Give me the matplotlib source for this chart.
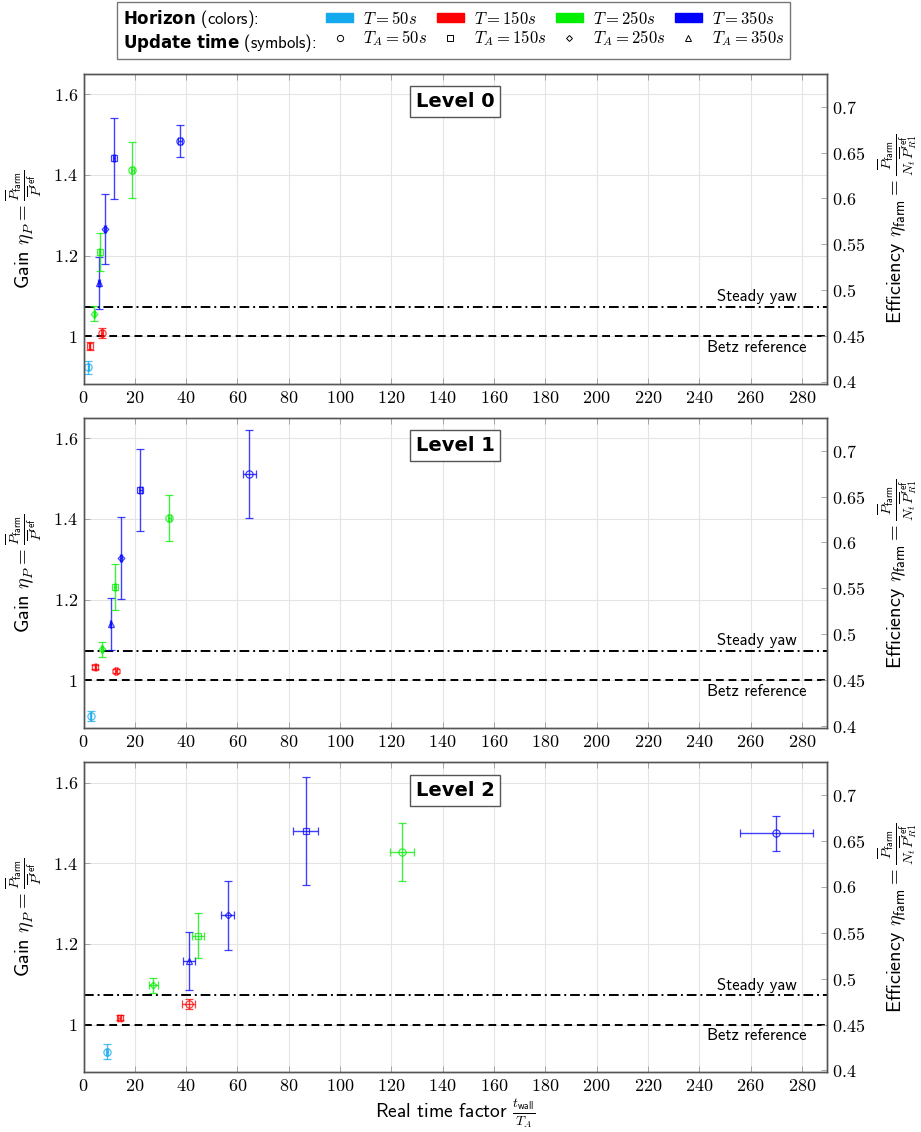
import matplotlib
matplotlib.use("Agg")
import matplotlib.pyplot as plt
from matplotlib.ticker import FuncFormatter, FixedLocator
from matplotlib.patches import Patch
from matplotlib.lines import Line2D

plt.rcParams['mathtext.fontset'] = 'cm'
plt.rcParams['font.family'] = ['cmss10', 'DejaVu Sans']
plt.rcParams['axes.unicode_minus'] = False

# ---------------- data ----------------
horizons = [50, 150, 250, 350]
updates = [50, 150, 250, 350]
horizon_colors = {50: '#14a8ec', 150: '#ff0000', 250: '#00ee00', 350: '#0000ff'}
update_markers = {50: 'o', 150: 's', 250: 'D', 350: '^'}

# Level 0
l0_T    = [50, 150, 150, 250, 350, 250, 350, 350, 250, 350]
l0_TA   = [50, 150, 50, 250, 350, 150, 250, 150, 50, 50]
l0_x    = [1.9, 2.4, 7.3, 4.2, 6.0, 6.3, 8.3, 12.0, 19.0, 37.5]
l0_xerr = [0.2, 0.2, 0.3, 0.2, 0.3, 0.3, 0.3, 0.4, 0.5, 0.8]
l0_y    = [0.922, 0.975, 1.007, 1.056, 1.132, 1.209, 1.267, 1.441, 1.412, 1.484]
l0_yerr = [0.017, 0.010, 0.012, 0.018, 0.064, 0.047, 0.087, 0.100, 0.070, 0.040]

# Level 1
l1_T    = [50, 150, 150, 250, 350, 250, 350, 350, 250, 350]
l1_TA   = [50, 150, 50, 250, 350, 150, 250, 150, 50, 50]
l1_x    = [2.9, 4.5, 12.7, 7.3, 10.6, 12.2, 14.5, 22.1, 33.5, 64.6]
l1_xerr = [0.2, 0.2, 0.4, 0.3, 0.3, 0.4, 0.4, 0.5, 0.6, 2.5]
l1_y    = [0.912, 1.033, 1.023, 1.077, 1.139, 1.232, 1.303, 1.472, 1.402, 1.511]
l1_yerr = [0.013, 0.005, 0.005, 0.019, 0.065, 0.057, 0.102, 0.102, 0.057, 0.109]

# Level 2
l2_T    = [50, 150, 250, 150, 350, 250, 350, 350, 250, 350]
l2_TA   = [50, 150, 250, 50, 350, 150, 250, 150, 50, 50]
l2_x    = [9.2, 14.1, 27.2, 41.0, 41.1, 44.6, 56.2, 86.6, 124.0, 270.1]
l2_xerr = [0.5, 0.6, 1.7, 2.6, 2.5, 2.3, 2.5, 4.9, 4.7, 14.2]
l2_y    = [0.933, 1.017, 1.097, 1.051, 1.157, 1.220, 1.271, 1.480, 1.428, 1.475]
l2_yerr = [0.019, 0.006, 0.018, 0.012, 0.072, 0.056, 0.085, 0.134, 0.072, 0.043]

levels = [
    ("Level 0", l0_T, l0_TA, l0_x, l0_xerr, l0_y, l0_yerr),
    ("Level 1", l1_T, l1_TA, l1_x, l1_xerr, l1_y, l1_yerr),
    ("Level 2", l2_T, l2_TA, l2_x, l2_xerr, l2_y, l2_yerr),
]

steady_yaw = 1.0725
betz_ref = 1.0
x_ticks = list(range(0, 281, 20))
y_ticks = [1.0, 1.2, 1.4, 1.6]
eff_ticks = [0.4, 0.45, 0.5, 0.55, 0.6, 0.65, 0.7]
xlim = (0, 289.7)
ylim = (0.881, 1.651)


def gain_to_eff(g):
    return 0.45 + 0.439 * (g - 1.0)


# ---------------- figure ----------------
fig = plt.figure(figsize=(9.21, 11.32), dpi=100)
frame_col = '#555555'
grid_col = '#e4e4e4'
fs = 11

axes_rects = [
    (0.0907, 0.6608, 0.8069, 0.2739),
    (0.0907, 0.3566, 0.8069, 0.2744),
    (0.0907, 0.0526, 0.8069, 0.2740),
]
mfmt = FuncFormatter(lambda v, p: r'$%g$' % round(v, 3))

for i, (name, T, TA, x, xe, y, ye) in enumerate(levels):
    ax = fig.add_axes(axes_rects[i])
    ax.set_xlim(*xlim)
    ax.set_ylim(*ylim)
    ax.grid(True, color=grid_col, lw=0.8, zorder=0)
    ax.set_axisbelow(True)
    for s in ax.spines.values():
        s.set_color(frame_col)
        s.set_linewidth(1.0)
    ax.xaxis.set_major_locator(FixedLocator(x_ticks))
    ax.yaxis.set_major_locator(FixedLocator(y_ticks))
    ax.xaxis.set_major_formatter(mfmt)
    ax.yaxis.set_major_formatter(mfmt)
    ax.tick_params(direction='in', length=4, width=0.6, color='#999999',
                   labelsize=fs + 2, top=True, pad=4)
    ax.tick_params(axis='y', right=False)

    ax.axhline(steady_yaw, color='k', lw=1.4, ls=(0, (5, 2, 1, 2)), zorder=2)
    ax.axhline(betz_ref, color='k', lw=1.4, ls=(0, (4, 2.5)), zorder=2)
    ax.annotate('Steady yaw', xy=(0.906, steady_yaw), xycoords=('axes fraction', 'data'),
                xytext=(0, 2), textcoords='offset points', ha='center', va='bottom',
                fontsize=fs + 1)
    ax.annotate('Betz reference', xy=(0.906, betz_ref), xycoords=('axes fraction', 'data'),
                xytext=(0, -2.5), textcoords='offset points', ha='center', va='top',
                fontsize=fs + 1)

    for k in range(len(x)):
        c = horizon_colors[T[k]]
        m = update_markers[TA[k]]
        ms = {'o': 5.2, 's': 4.8, 'D': 3.4, '^': 4.6}[m]
        ax.errorbar([x[k]], [y[k]], xerr=[xe[k]], yerr=[ye[k]], fmt=m, color=c,
                    mfc='none', mec=c, ms=ms, mew=0.9, elinewidth=1.0,
                    capsize=3, capthick=1.0, alpha=0.75, zorder=3)

    ax.text(0.5, 0.91, name, transform=ax.transAxes, ha='center', va='center',
            fontsize=fs + 3, fontweight='bold', family='DejaVu Sans',
            bbox=dict(boxstyle='square,pad=0.3', fc='white', ec=frame_col, lw=1.0),
            zorder=5)

    ax.set_ylabel(r'Gain $\eta_P = \frac{\overline{P}_{\mathsf{farm}}}{\overline{P}^{\mathsf{ref}}}$',
                  fontsize=fs + 3.5, labelpad=6)

    ax2 = ax.twinx()
    ax2.set_ylim(gain_to_eff(ylim[0]), gain_to_eff(ylim[1]))
    ax2.yaxis.set_major_locator(FixedLocator(eff_ticks))
    ax2.yaxis.set_major_formatter(mfmt)
    ax2.tick_params(direction='in', length=4, width=0.6, color='#999999',
                    labelsize=fs + 2, pad=4)
    for s in ax2.spines.values():
        s.set_color(frame_col)
        s.set_linewidth(1.0)
    ax2.set_ylabel(r'Efficiency $\eta_{\mathsf{farm}} = \frac{\overline{P}_{\mathsf{farm}}}{N_t\,\overline{P}^{\mathsf{ref}}_{R1}}$',
                   fontsize=fs + 3.5, labelpad=8)

    if i == 2:
        ax.set_xlabel(r'Real time factor $\frac{t_{\mathsf{wall}}}{T_A}$', fontsize=fs + 3, labelpad=2)

# ---------------- legend ----------------
blank = Line2D([], [], ls='none')
handles, labels = [], []
handles += [blank, blank]
labels += [r'$\mathbf{Horizon}$ (colors):', r'$\mathbf{Update\ time}$ (symbols):']
for h, ta in zip(horizons, updates):
    handles.append(Patch(facecolor=horizon_colors[h], edgecolor=horizon_colors[h]))
    labels.append(r'$T = %ds$' % h)
    handles.append(Line2D([], [], marker=update_markers[ta], color='k', ls='none',
                          mfc='none', mew=0.7,
                          ms={'o': 4.5, 's': 4.2, 'D': 3.0, '^': 4.0}[update_markers[ta]]))
    labels.append(r'$T_A = %ds$' % ta)

leg = fig.legend(handles, labels, ncol=5, loc='center', bbox_to_anchor=(0.4925, 0.973),
                 fontsize=fs + 1, frameon=True, fancybox=False, edgecolor=frame_col,
                 handlelength=1.6, handleheight=0.45, handletextpad=0.6,
                 columnspacing=0.6, labelspacing=0.12, borderpad=0.35, borderaxespad=0)
leg.get_frame().set_linewidth(1.0)
for t in leg.get_texts()[:2]:
    t.set_math_fontfamily('dejavusans')
# first column holds only row titles: drop its (empty) handle area
try:
    first_col = leg._legend_handle_box.get_children()[0]
    for hp in first_col.get_children():
        da = hp.get_children()[0]
        da.width = 0
        hp.sep = 0
except Exception:
    pass

fig.savefig('out.png', dpi=100)
